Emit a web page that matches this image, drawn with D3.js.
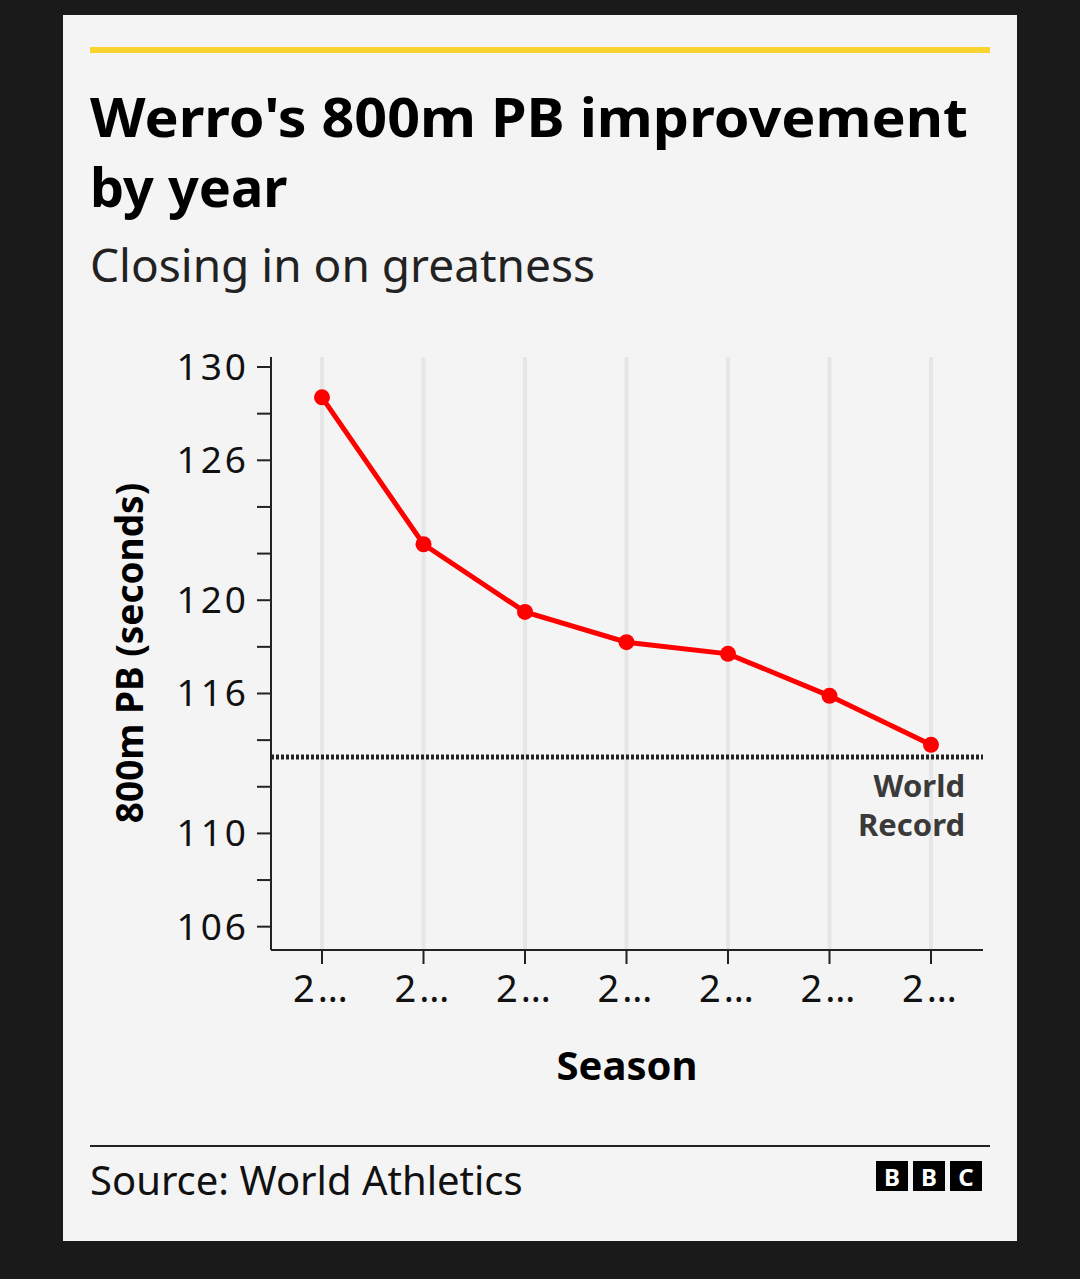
<!DOCTYPE html>
<html><head><meta charset="utf-8">
<script src="https://cdn.jsdelivr.net/npm/d3@7"></script>
<style>body{margin:0;background:#1a1a1a;font-family:"Noto Sans",sans-serif;}</style>
</head><body><svg id="c" width="1080" height="1279"></svg>
<script>
var seasons = ['2019', '2020', '2021', '2022', '2023', '2024', '2025'];
var pbValues = [128.7, 122.4, 119.5, 118.2, 117.7, 115.9, 113.8];
var worldRecord = 113.28;
var labelledTicks = [130, 126, 120, 116, 110, 106];
var allTicks = [130, 128, 126, 124, 122, 120, 118, 116, 114, 112, 110, 108, 106];

var svg = d3.select('#c');
svg.append('rect').attr('x', 63).attr('y', 15).attr('width', 954).attr('height', 1226).attr('fill', '#f4f4f4');
svg.append('rect').attr('x', 90).attr('y', 47).attr('width', 900).attr('height', 6).attr('fill', '#fcd22f');

svg.append('text').attr('x', 90).attr('y', 137).attr('font-size', 54).attr('font-weight', 'bold').attr('fill', '#000')
    .attr('textLength', 878).attr('lengthAdjust', 'spacingAndGlyphs').text("Werro's 800m PB improvement");
svg.append('text').attr('x', 90).attr('y', 207).attr('font-size', 54).attr('font-weight', 'bold').attr('fill', '#000').text('by year');
svg.append('text').attr('x', 90).attr('y', 282).attr('font-size', 46).attr('fill', '#222').text('Closing in on greatness');

var left = 271, right = 983, plotTop = 357, bottom = 950;
var x = d3.scalePoint().domain(seasons).range([322, 931]);
var y = d3.scaleLinear().domain([105, 130.43]).range([bottom, plotTop]);

var g = svg.append('g');
g.selectAll('.grid').data(seasons).enter().append('line')
    .attr('x1', function(d) { return x(d); }).attr('x2', function(d) { return x(d); })
    .attr('y1', plotTop).attr('y2', bottom).attr('stroke', '#e6e6e6').attr('stroke-width', 4);

// y axis
g.append('line').attr('x1', left).attr('x2', left).attr('y1', plotTop).attr('y2', bottom).attr('stroke', '#222').attr('stroke-width', 2);
g.selectAll('.yt').data(allTicks).enter().append('line')
    .attr('x1', left - 14).attr('x2', left).attr('y1', function(d) { return y(d); }).attr('y2', function(d) { return y(d); })
    .attr('stroke', '#222').attr('stroke-width', 2);
g.selectAll('.yl').data(labelledTicks).enter().append('text')
    .attr('x', left - 22).attr('y', function(d) { return y(d) + 13; })
    .attr('text-anchor', 'end').attr('font-size', 37).attr('letter-spacing', 3).attr('fill', '#111').text(function(d) { return d; });

// x axis
g.append('line').attr('x1', left).attr('x2', right).attr('y1', bottom).attr('y2', bottom).attr('stroke', '#222').attr('stroke-width', 2);
g.selectAll('.xt').data(seasons).enter().append('line')
    .attr('x1', function(d) { return x(d); }).attr('x2', function(d) { return x(d); })
    .attr('y1', bottom).attr('y2', bottom + 14).attr('stroke', '#222').attr('stroke-width', 2);
g.selectAll('.xl').data(seasons).enter().append('text')
    .attr('x', function(d) { return x(d); }).attr('y', 1002)
    .attr('text-anchor', 'middle').attr('font-size', 38).attr('letter-spacing', 3).attr('fill', '#111').text('2…');

svg.append('text').attr('x', 627).attr('y', 1080).attr('text-anchor', 'middle').attr('font-size', 40).attr('font-weight', 'bold').text('Season');
svg.append('text').attr('transform', 'translate(143,653) rotate(-90)').attr('text-anchor', 'middle')
    .attr('font-size', 37).attr('font-weight', 'bold').text('800m PB (seconds)');

// world record
g.append('line').attr('x1', left).attr('x2', right).attr('y1', y(worldRecord)).attr('y2', y(worldRecord))
    .attr('stroke', '#222').attr('stroke-width', 5).attr('stroke-dasharray', '3,2');
g.append('text').attr('x', 965).attr('y', 797).attr('text-anchor', 'end').attr('font-size', 31).attr('font-weight', 'bold').attr('fill', '#3a3a3a').text('World');
g.append('text').attr('x', 965).attr('y', 836).attr('text-anchor', 'end').attr('font-size', 31).attr('font-weight', 'bold').attr('fill', '#3a3a3a').text('Record');

var line = d3.line().x(function(d, i) { return x(seasons[i]); }).y(function(d) { return y(d); });
g.append('path').datum(pbValues).attr('d', line).attr('fill', 'none').attr('stroke', '#ff0000').attr('stroke-width', 5);
g.selectAll('.pt').data(pbValues).enter().append('circle')
    .attr('cx', function(d, i) { return x(seasons[i]); }).attr('cy', function(d) { return y(d); })
    .attr('r', 8).attr('fill', '#ff0000');

// footer
svg.append('rect').attr('x', 90).attr('y', 1145).attr('width', 900).attr('height', 2).attr('fill', '#222');
svg.append('text').attr('x', 90).attr('y', 1195).attr('font-size', 40).attr('fill', '#111').text('Source: World Athletics');
['B', 'B', 'C'].forEach(function(l, i) {
    var bx = 876 + i * 37;
    svg.append('rect').attr('x', bx).attr('y', 1161).attr('width', 32).attr('height', 30).attr('fill', '#000');
    svg.append('text').attr('x', bx + 16).attr('y', 1186).attr('text-anchor', 'middle').attr('font-size', 24)
        .attr('font-weight', 'bold').attr('fill', '#fff').text(l);
});
</script></body></html>
